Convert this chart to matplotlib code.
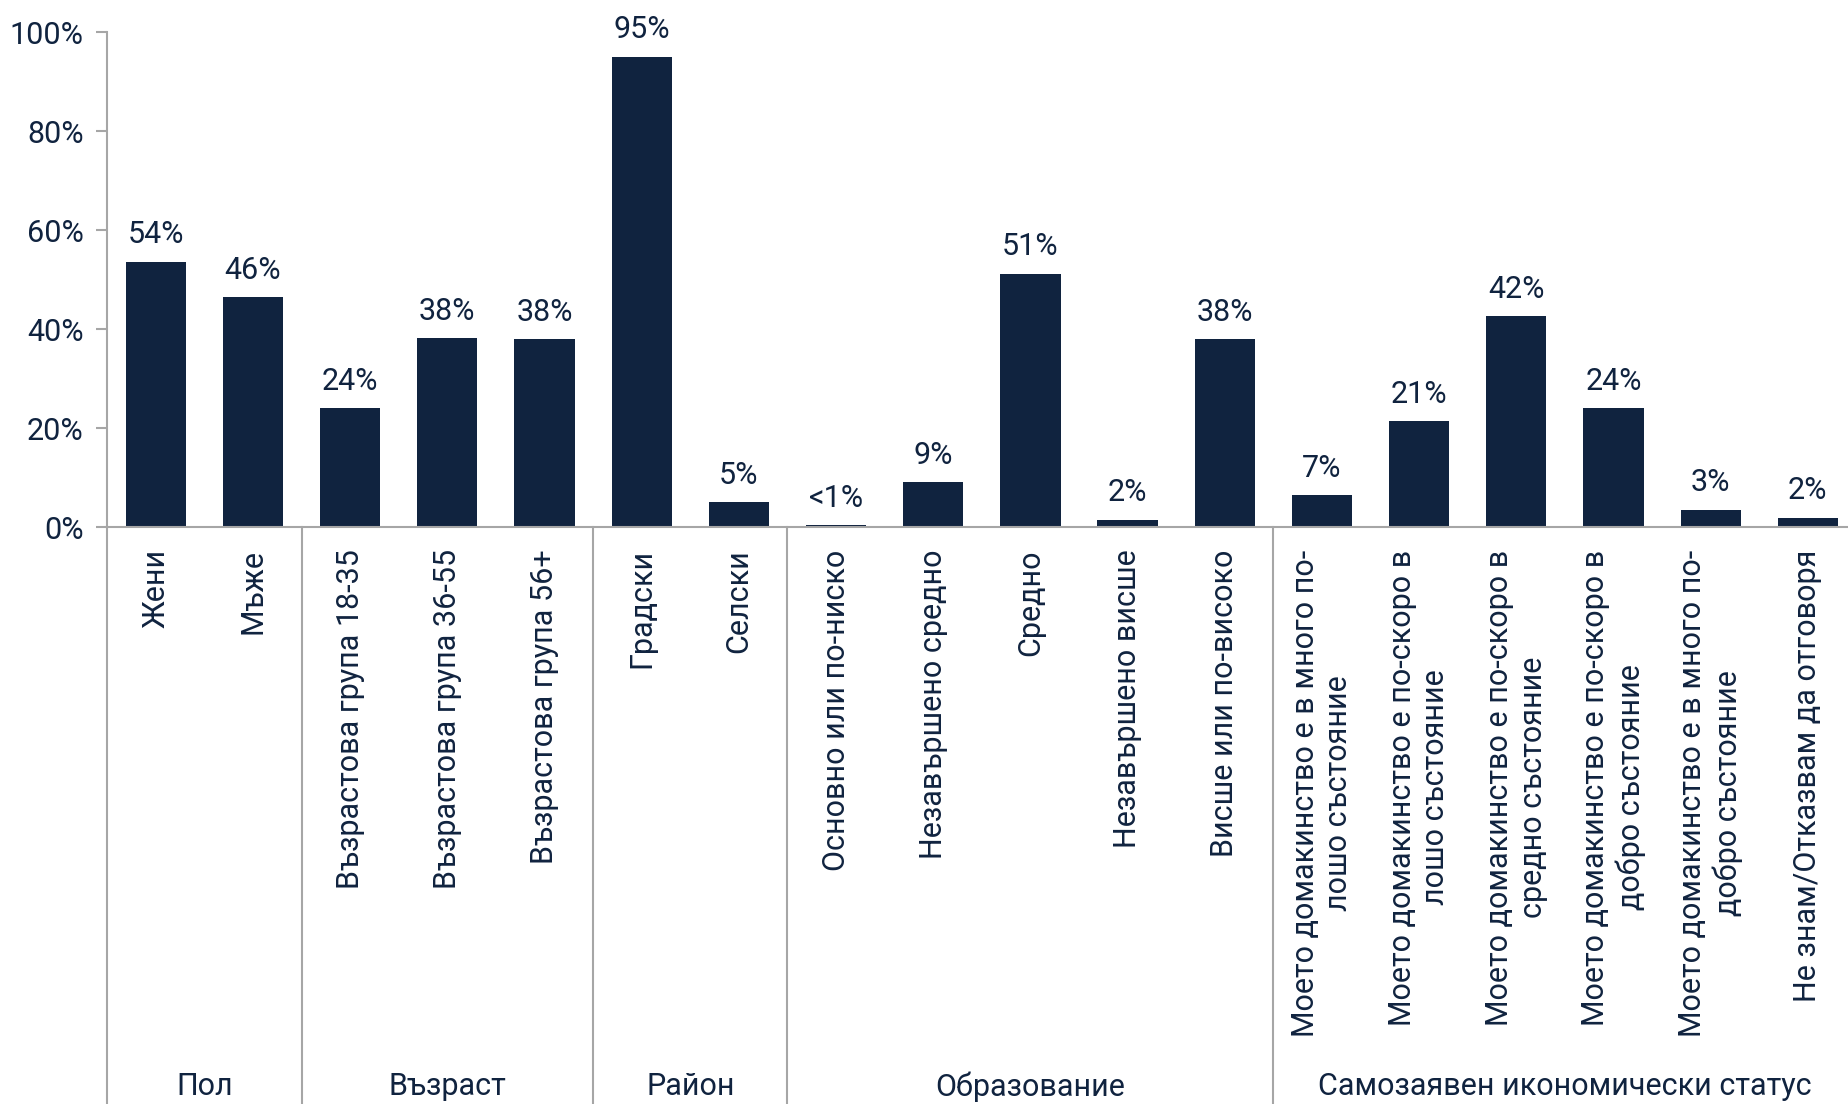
import matplotlib
matplotlib.use('Agg')
import matplotlib.pyplot as plt
import matplotlib.transforms as mtransforms

# data
categories = [
    'Жени', 'Мъже',
    'Възрастова група 18-35', 'Възрастова група 36-55', 'Възрастова група 56+',
    'Градски', 'Селски',
    'Основно или по-ниско', 'Незавършено средно', 'Средно', 'Незавършено висше', 'Висше или по-високо',
    'Моето домакинство е в много по-\nлошо състояние',
    'Моето домакинство е по-скоро в\nлошо състояние',
    'Моето домакинство е по-скоро в\nсредно състояние',
    'Моето домакинство е по-скоро в\nдобро състояние',
    'Моето домакинство е в много по-\nдобро състояние',
    'Не знам/Отказвам да отговоря',
]
values = [53.6, 46.4, 24.0, 38.1, 37.9, 95.0, 5.0, 0.4, 9.0, 51.2, 1.5, 37.9,
          6.4, 21.4, 42.6, 24.0, 3.5, 1.9]
value_labels = ['54%', '46%', '24%', '38%', '38%', '95%', '5%', '<1%', '9%', '51%', '2%', '38%',
                '7%', '21%', '42%', '24%', '3%', '2%']
groups = ['Пол', 'Възраст', 'Район', 'Образование', 'Самозаявен икономически статус']
group_sizes = [2, 3, 2, 5, 6]

navy = '#10233f'
grey = '#a6a6a6'
fs = 22

plt.rcParams['font.family'] = ['Roboto', 'DejaVu Sans']

fig = plt.figure(figsize=(18.49, 11.04), dpi=100)
ax = fig.add_axes([0.058, 0.5226, 0.946, 0.4484])

x = list(range(len(categories)))
bars = ax.bar(x, values, width=0.62, color=navy)
for b, lab in zip(bars, value_labels):
    ax.annotate(lab, (b.get_x() + b.get_width() / 2, b.get_height()),
                xytext=(0, 9), textcoords='offset points',
                ha='center', va='bottom', fontsize=fs, color=navy)

ax.set_xlim(-0.5, len(categories) - 0.5)
ax.set_ylim(0, 100)
ax.set_yticks([0, 20, 40, 60, 80, 100])
ax.set_yticklabels(['0%', '20%', '40%', '60%', '80%', '100%'], fontsize=fs, color=navy)
ax.tick_params(axis='y', length=8, color=grey, width=1.5, pad=9)
ax.set_xticks(x)
ax.set_xticklabels(categories, rotation=90, fontsize=fs, color=navy,
                   va='top', ha='center', multialignment='center')
ax.tick_params(axis='x', length=0, pad=16)

for s in ['top', 'right']:
    ax.spines[s].set_visible(False)
ax.spines['left'].set_color(grey)
ax.spines['bottom'].set_color(grey)
ax.spines['left'].set_linewidth(1.5)
ax.spines['bottom'].set_linewidth(1.5)

# group separators and group names below the axis
trans = mtransforms.blended_transform_factory(ax.transData, fig.transFigure)
start = -0.5
for g, n in zip(groups, group_sizes):
    end = start + n
    ax.plot([start, start], [0, 0.5226], transform=trans, color=grey, lw=1.5, clip_on=False)
    ax.text((start + end) / 2, 0.016, g, transform=trans, ha='center', va='center',
            fontsize=fs, color=navy)
    start = end

fig.savefig('out.png', dpi=100)
